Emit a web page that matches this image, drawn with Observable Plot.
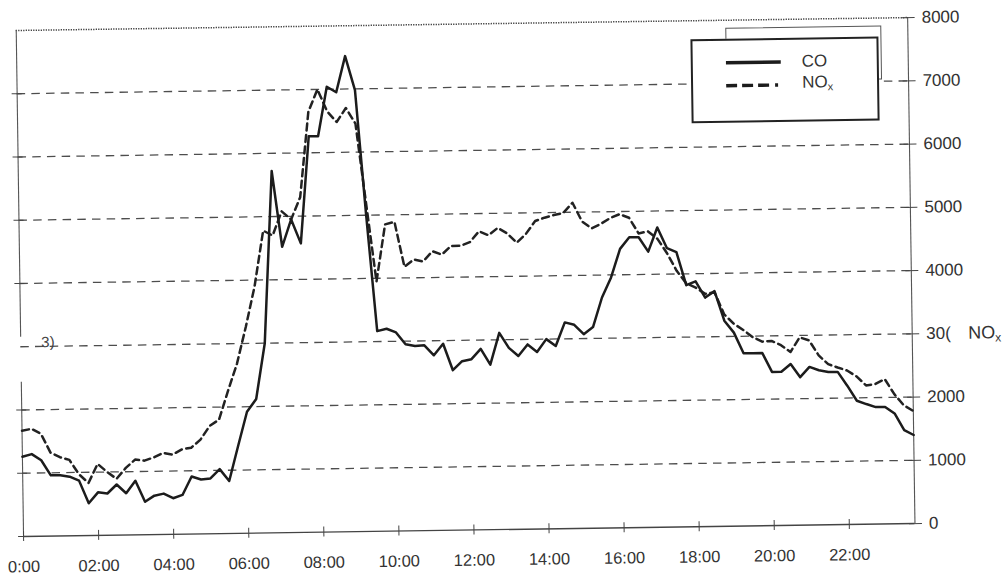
<!DOCTYPE html>
<html>
<head>
<meta charset="utf-8">
<script src="https://cdn.jsdelivr.net/npm/d3@7"></script>
<script src="https://cdn.jsdelivr.net/npm/@observablehq/plot@0.6"></script>
<style>
  html, body { margin: 0; padding: 0; background: #fff; overflow: hidden; }
  #wrap { position: relative; width: 1004px; height: 575px; transform: rotate(-0.83deg); transform-origin: 50% 50%;
          font-family: "Liberation Sans", Arial, sans-serif; color: #333; }
  #chart svg { display: block; }
  .legend-back { position: absolute; left: 729px; top: 31px; width: 156px; height: 54px; box-sizing: border-box;
                 border: 1px solid #555; background: #fff; }
  .legend { position: absolute; left: 694px; top: 42px; width: 188px; height: 84px; box-sizing: border-box;
            border: 2.5px solid #222; background: #fff; }
  .legend .row { position: absolute; left: 33px; height: 20px; display: flex; align-items: center; }
  .legend .row svg { display: block; margin-right: 20px; }
  .legend .lab { font-size: 17px; color: #333; line-height: 20px; }
  .legend sub { font-size: 11px; vertical-align: -3px; }
</style>
</head>
<body>
<div id="wrap">
  <div id="chart"></div>
</div>
<script>
// ---- data (15-minute readings, 0:00 .. 23:45) ----
const stepHours = 0.25;
const co = [1260,1300,1200,960,960,935,870,510,680,660,
            800,660,855,520,615,645,570,620,910,860,
            875,1020,830,1380,1920,2120,3000,5720,4520,4950,
            4570,6260,6260,7040,6950,7520,6980,5000,3165,3200,
            3140,2950,2920,2930,2770,2950,2530,2670,2700,2860,
            2610,3110,2870,2740,2920,2800,3000,2890,3260,3220,
            3070,3180,3645,3960,4410,4590,4590,4360,4740,4410,
            4345,3820,3880,3620,3720,3250,3060,2730,2730,2730,
            2430,2430,2550,2340,2500,2445,2415,2415,2195,1955,
            1900,1850,1850,1745,1480,1400];
const nox = [1670,1700,1620,1320,1245,1200,970,830,1130,1000,
             890,1060,1190,1170,1220,1290,1260,1340,1365,1490,
             1705,1800,2250,2680,3260,3900,4780,4700,5080,4950,
             5300,6650,7000,6650,6480,6700,6450,5200,3950,4850,
             4890,4175,4290,4255,4415,4360,4495,4495,4550,4720,
             4655,4770,4680,4530,4670,4870,4920,4960,4990,5150,
             4850,4740,4810,4900,4958,4900,4650,4680,4560,4330,
             4050,3850,3780,3680,3700,3350,3200,3100,2985,2910,
             2920,2850,2740,2970,2920,2680,2540,2485,2435,2340,
             2195,2215,2290,2050,1870,1780];
const seriesNames = ["CO", "NOx"];
const xTicks = [0,2,4,6,8,10,12,14,16,18,20,22];
const xTickLabels = ["0:00","02:00","04:00","06:00","08:00","10:00","12:00","14:00","16:00","18:00","20:00","22:00"];
const yTicks = [0,1000,2000,3000,4000,5000,6000,7000,8000];
const yTickLabels = ["0","1000","2000","30(","4000","5000","6000","7000","8000"];
const gridValues = [1000,2000,3000,4000,5000,6000,7000];
const leftTicks = [0,1000,2000,4000,5000,6000,7000];
const leftAxisSegments = [{y1: 0, y2: 2440}, {y1: 3150, y2: 8000}];
const noteLabel = "3)";
const axisTitleMain = "NO", axisTitleSub = "x";

// ---- build ----
const rows = co.map((v, i) => ({t: i * stepHours, co: v, nox: nox[i]}));
const tEnd = (co.length - 1) * stepHours;
const ink = "#333";

const chart = Plot.plot({
  width: 1004, height: 575,
  marginLeft: 19.5, marginRight: 93, marginTop: 23, marginBottom: 46,
  x: {domain: [0, tEnd]},
  y: {domain: [0, 8000]},
  style: {fontFamily: '"Liberation Sans", Arial, sans-serif', background: "transparent", color: ink},
  marks: [
    Plot.ruleY(gridValues, {stroke: "#4d4d4d", strokeWidth: 1.3, strokeDasharray: "8.5,6.2"}),
    Plot.ruleY([8000], {stroke: "#333", strokeWidth: 1.5, strokeDasharray: "1.2,1.3"}),
    Plot.ruleY([0], {stroke: "#444", strokeWidth: 1.4}),
    Plot.ruleX([tEnd], {stroke: "#555", strokeWidth: 1.1}),
    Plot.ruleX(leftAxisSegments, {x: () => 0, y1: "y1", y2: "y2", stroke: "#555", strokeWidth: 1.1}),
    // x axis: crossing ticks, then labels
    Plot.axisX({ticks: xTicks, tickSize: 10, dy: -5, fill: "none", stroke: "#444", label: null}),
    Plot.axisX({ticks: xTicks, tickSize: 0, tickPadding: 24, stroke: "none", fill: ink, fontSize: 16.5,
                tickFormat: (d) => xTickLabels[xTicks.indexOf(d)], label: null}),
    // right axis
    Plot.axisY({anchor: "right", ticks: yTicks, tickSize: 13, dx: -6.5, fill: "none", stroke: "#444", label: null}),
    Plot.axisY({anchor: "right", ticks: yTicks, tickSize: 0, tickPadding: 14, stroke: "none", fill: ink, fontSize: 17,
                tickFormat: (d) => yTickLabels[yTicks.indexOf(d)], label: null}),
    // left axis ticks only
    Plot.axisY({anchor: "left", ticks: leftTicks, tickSize: 10, dx: 5, fill: "none", stroke: "#444", label: null}),
    // series
    Plot.line(rows, {x: "t", y: "nox", stroke: "#222", strokeWidth: 2.5, strokeDasharray: "7,4.5"}),
    Plot.line(rows, {x: "t", y: "co", stroke: "#1c1c1c", strokeWidth: 2.5}),
    // texts
    Plot.text([noteLabel], {x: () => 0, y: () => 3000, text: d => d, dx: 20.5, dy: -4, textAnchor: "start",
                            fontSize: 15, fill: "#444"}),
    Plot.text([axisTitleMain], {x: () => tEnd, y: () => 3000, text: d => d, dx: 56, textAnchor: "start",
                                fontSize: 18, fill: ink}),
    Plot.text([axisTitleSub], {x: () => tEnd, y: () => 3000, text: d => d, dx: 83, dy: 5, textAnchor: "start",
                               fontSize: 12, fill: ink})
  ]
});
document.getElementById("chart").appendChild(chart);

// ---- legend (inside plot area, as in the original) ----
const wrap = document.getElementById("wrap");
const back = document.createElement("div"); back.className = "legend-back"; wrap.appendChild(back);
const leg = document.createElement("div"); leg.className = "legend"; wrap.appendChild(leg);
const samples = [
  {name: seriesNames[0], dash: null, top: 12},
  {name: seriesNames[1], dash: "11,5,11,5,11,6,3,20", top: 35}
];
samples.forEach(s => {
  const row = document.createElement("div");
  row.className = "row"; row.style.top = s.top + "px";
  const ns = "http://www.w3.org/2000/svg";
  const svg = document.createElementNS(ns, "svg");
  svg.setAttribute("width", 56); svg.setAttribute("height", 8);
  const ln = document.createElementNS(ns, "line");
  ln.setAttribute("x1", 0); ln.setAttribute("x2", 55); ln.setAttribute("y1", 4); ln.setAttribute("y2", 4);
  ln.setAttribute("stroke", "#1c1c1c"); ln.setAttribute("stroke-width", 3.4);
  if (s.dash) ln.setAttribute("stroke-dasharray", s.dash);
  svg.appendChild(ln); row.appendChild(svg);
  const lab = document.createElement("span"); lab.className = "lab";
  if (s.name === "NOx") lab.innerHTML = "NO<sub>x</sub>"; else lab.textContent = s.name;
  row.appendChild(lab);
  leg.appendChild(row);
});
</script>
</body>
</html>
